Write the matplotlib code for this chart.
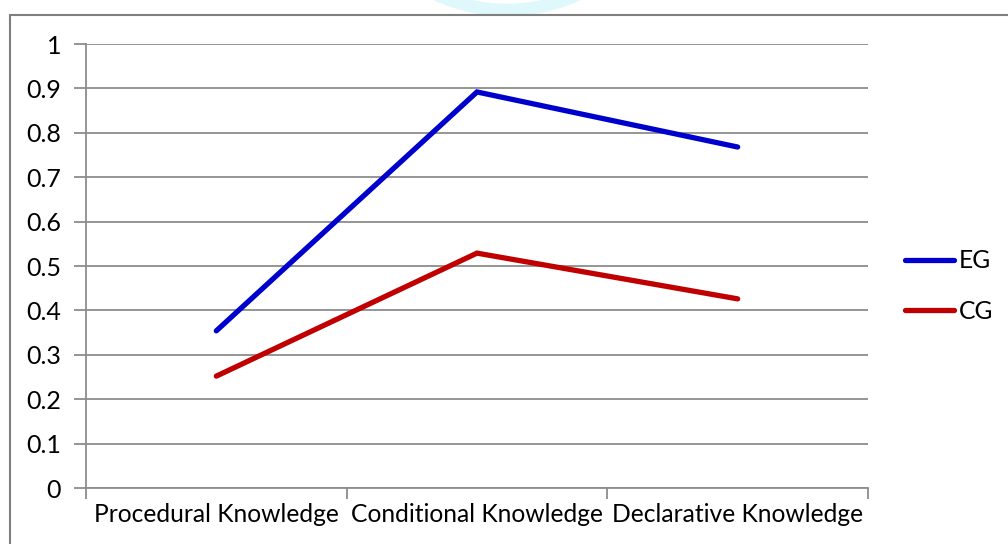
import numpy as np
import matplotlib.pyplot as plt
from matplotlib.patches import Arc, Rectangle

# data
categories = ['Procedural Knowledge', 'Conditional Knowledge', 'Declarative Knowledge']
eg_values = [0.354, 0.892, 0.768]
cg_values = [0.252, 0.529, 0.426]

plt.rcParams['font.family'] = ['Lato', 'DejaVu Sans']

fig = plt.figure(figsize=(10.08, 5.44), dpi=100)
ax = fig.add_axes([0.0853, 0.1029, 0.7758, 0.8162])

x = np.arange(len(categories))
grid_col = '#8c8c8c'

ax.plot(x, eg_values, color='#0000cc', lw=3.8, solid_capstyle='round',
        solid_joinstyle='miter', label='EG', zorder=3)
ax.plot(x, cg_values, color='#c00000', lw=3.8, solid_capstyle='round',
        solid_joinstyle='miter', label='CG', zorder=3)

ax.set_xlim(-0.5, len(categories) - 0.5)
ax.set_ylim(0, 1)
ax.set_yticks(np.arange(0, 1.01, 0.1))
ax.set_yticklabels(['0', '0.1', '0.2', '0.3', '0.4', '0.5', '0.6', '0.7', '0.8', '0.9', '1'])
ax.yaxis.grid(True, color=grid_col, lw=1.3)
ax.set_axisbelow(True)

# category labels at centers, tick marks at boundaries
ax.set_xticks(x)
ax.set_xticklabels(categories)
ax.tick_params(axis='x', which='major', length=0, pad=11, labelsize=17.7)
ax.set_xticks(np.arange(-0.5, len(categories)), minor=True)
ax.tick_params(axis='x', which='minor', length=8, width=1.3, color=grid_col, direction='out')
ax.tick_params(axis='y', length=9, width=1.3, color=grid_col, pad=9, labelsize=18)

for s in ['top', 'right']:
    ax.spines[s].set_visible(False)
for s in ['left', 'bottom']:
    ax.spines[s].set_color(grid_col)
    ax.spines[s].set_linewidth(1.3)

leg = fig.legend(loc='upper left', bbox_to_anchor=(0.888, 0.560), frameon=False,
                 fontsize=17.7, handlelength=2.0, handletextpad=0.2,
                 labelspacing=1.13, borderaxespad=0)

# chart frame (partly cut off) and faint watermark ring above it
fig.patches.append(Rectangle((10 / 1008, -0.1), 1.2, 1 - 15 / 544 + 0.1,
                             transform=fig.transFigure, fill=False,
                             edgecolor='#7f7f7f', lw=1.5, zorder=2))
ring = Arc((507 / 1008, 1 + 140 / 544), 320 / 1008, 300 / 544,
           transform=fig.transFigure, edgecolor='#dff8fc', lw=9, zorder=1)
fig.patches.append(ring)
clip = Rectangle((0, 1 - 15 / 544), 1, 1, transform=fig.transFigure)
ring.set_clip_path(clip)

fig.savefig('out.png', dpi=100)
